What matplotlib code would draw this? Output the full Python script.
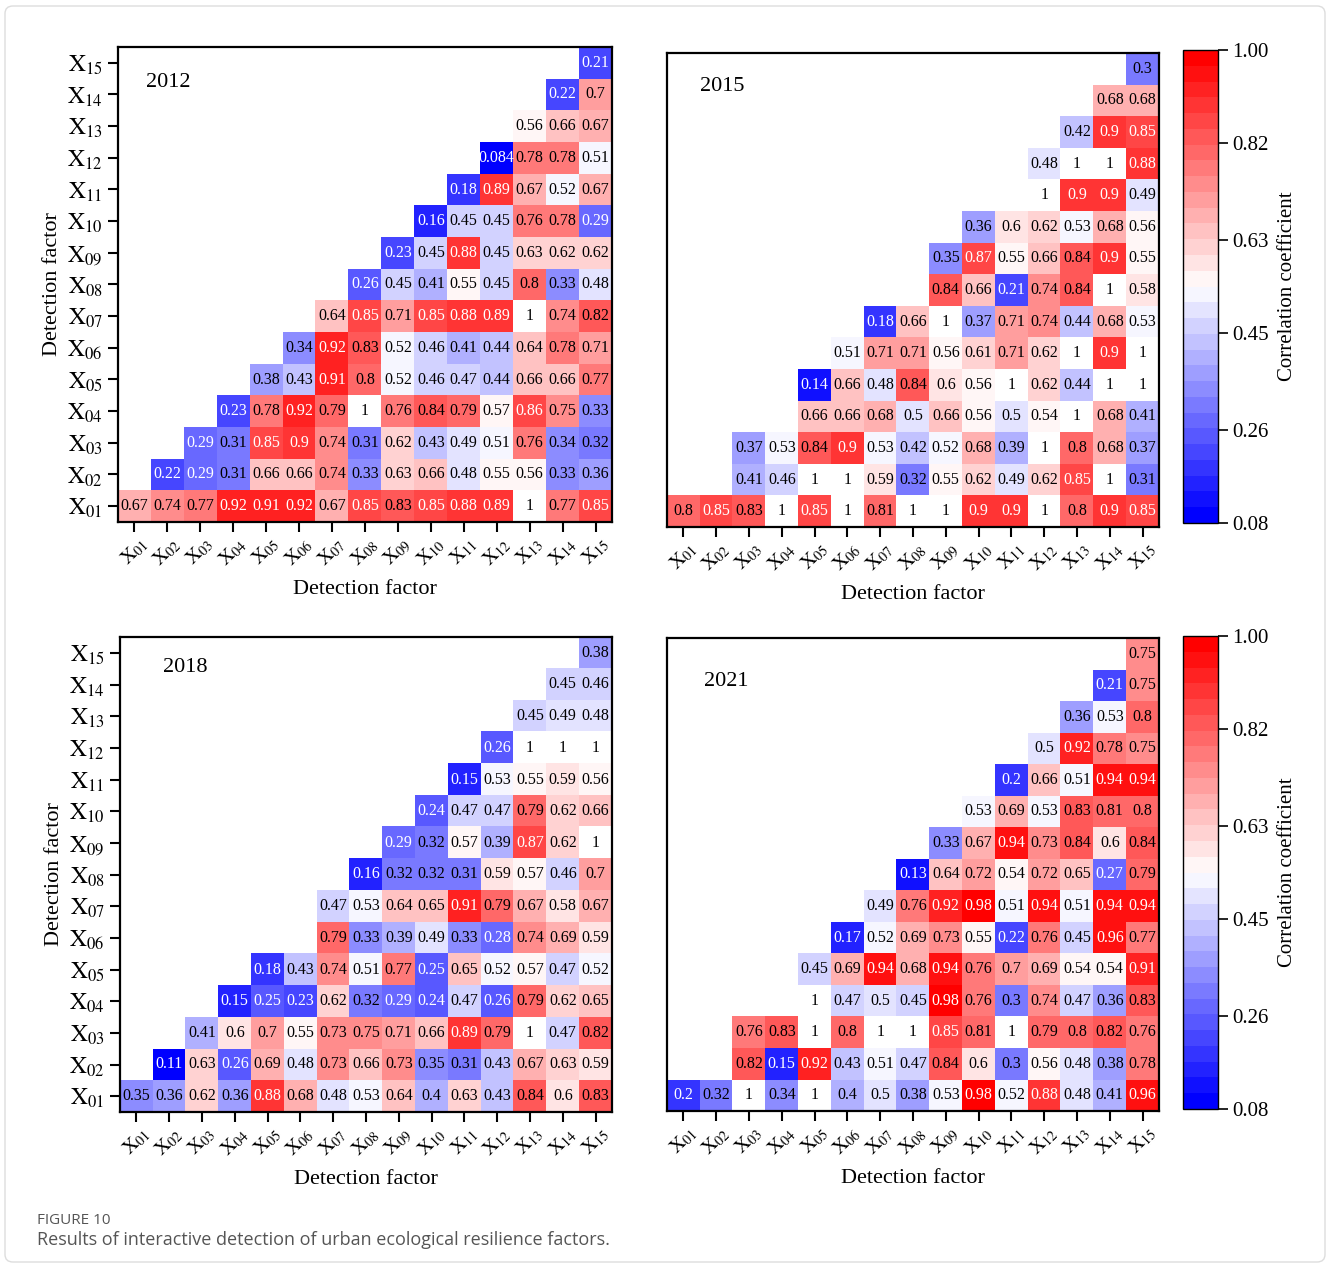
#!/usr/bin/env python3
"""Interaction detection heatmaps of urban ecological resilience factors (2012-2021)."""

import matplotlib
matplotlib.use("Agg")
import matplotlib.pyplot as plt
import numpy as np
from matplotlib.cm import ScalarMappable
from matplotlib.colors import ListedColormap, Normalize
from matplotlib.patches import FancyBboxPatch

W, H = 1326, 1270

FACTORS = ["01", "02", "03", "04", "05", "06", "07", "08",
           "09", "10", "11", "12", "13", "14", "15"]

# each row X01..X15 starts at its own diagonal column; None = blank cell
V2012 = [
    [0.67, 0.74, 0.77, 0.92, 0.91, 0.92, 0.67, 0.85, 0.83, 0.85, 0.88, 0.89, 1, 0.77, 0.85],
    [0.22, 0.29, 0.31, 0.66, 0.66, 0.74, 0.33, 0.63, 0.66, 0.48, 0.55, 0.56, 0.33, 0.36],
    [0.29, 0.31, 0.85, 0.9, 0.74, 0.31, 0.62, 0.43, 0.49, 0.51, 0.76, 0.34, 0.32],
    [0.23, 0.78, 0.92, 0.79, 1, 0.76, 0.84, 0.79, 0.57, 0.86, 0.75, 0.33],
    [0.38, 0.43, 0.91, 0.8, 0.52, 0.46, 0.47, 0.44, 0.66, 0.66, 0.77],
    [0.34, 0.92, 0.83, 0.52, 0.46, 0.41, 0.44, 0.64, 0.78, 0.71],
    [0.64, 0.85, 0.71, 0.85, 0.88, 0.89, 1, 0.74, 0.82],
    [0.26, 0.45, 0.41, 0.55, 0.45, 0.8, 0.33, 0.48],
    [0.23, 0.45, 0.88, 0.45, 0.63, 0.62, 0.62],
    [0.16, 0.45, 0.45, 0.76, 0.78, 0.29],
    [0.18, 0.89, 0.67, 0.52, 0.67],
    [0.084, 0.78, 0.78, 0.51],
    [0.56, 0.66, 0.67],
    [0.22, 0.7],
    [0.21],
]

V2015 = [
    [0.8, 0.85, 0.83, 1, 0.85, 1, 0.81, 1, 1, 0.9, 0.9, 1, 0.8, 0.9, 0.85],
    [None, 0.41, 0.46, 1, 1, 0.59, 0.32, 0.55, 0.62, 0.49, 0.62, 0.85, 1, 0.31],
    [0.37, 0.53, 0.84, 0.9, 0.53, 0.42, 0.52, 0.68, 0.39, 1, 0.8, 0.68, 0.37],
    [None, 0.66, 0.66, 0.68, 0.5, 0.66, 0.56, 0.5, 0.54, 1, 0.68, 0.41],
    [0.14, 0.66, 0.48, 0.84, 0.6, 0.56, 1, 0.62, 0.44, 1, 1],
    [0.51, 0.71, 0.71, 0.56, 0.61, 0.71, 0.62, 1, 0.9, 1],
    [0.18, 0.66, 1, 0.37, 0.71, 0.74, 0.44, 0.68, 0.53],
    [None, 0.84, 0.66, 0.21, 0.74, 0.84, 1, 0.58],
    [0.35, 0.87, 0.55, 0.66, 0.84, 0.9, 0.55],
    [0.36, 0.6, 0.62, 0.53, 0.68, 0.56],
    [None, 1, 0.9, 0.9, 0.49],
    [0.48, 1, 1, 0.88],
    [0.42, 0.9, 0.85],
    [0.68, 0.68],
    [0.3],
]

V2018 = [
    [0.35, 0.36, 0.62, 0.36, 0.88, 0.68, 0.48, 0.53, 0.64, 0.4, 0.63, 0.43, 0.84, 0.6, 0.83],
    [0.11, 0.63, 0.26, 0.69, 0.48, 0.73, 0.66, 0.73, 0.35, 0.31, 0.43, 0.67, 0.63, 0.59],
    [0.41, 0.6, 0.7, 0.55, 0.73, 0.75, 0.71, 0.66, 0.89, 0.79, 1, 0.47, 0.82],
    [0.15, 0.25, 0.23, 0.62, 0.32, 0.29, 0.24, 0.47, 0.26, 0.79, 0.62, 0.65],
    [0.18, 0.43, 0.74, 0.51, 0.77, 0.25, 0.65, 0.52, 0.57, 0.47, 0.52],
    [None, 0.79, 0.33, 0.39, 0.49, 0.33, 0.28, 0.74, 0.69, 0.59],
    [0.47, 0.53, 0.64, 0.65, 0.91, 0.79, 0.67, 0.58, 0.67],
    [0.16, 0.32, 0.32, 0.31, 0.59, 0.57, 0.46, 0.7],
    [0.29, 0.32, 0.57, 0.39, 0.87, 0.62, 1],
    [0.24, 0.47, 0.47, 0.79, 0.62, 0.66],
    [0.15, 0.53, 0.55, 0.59, 0.56],
    [0.26, 1, 1, 1],
    [0.45, 0.49, 0.48],
    [0.45, 0.46],
    [0.38],
]

V2021 = [
    [0.2, 0.32, 1, 0.34, 1, 0.4, 0.5, 0.38, 0.53, 0.98, 0.52, 0.88, 0.48, 0.41, 0.96],
    [None, 0.82, 0.15, 0.92, 0.43, 0.51, 0.47, 0.84, 0.6, 0.3, 0.56, 0.48, 0.38, 0.78],
    [0.76, 0.83, 1, 0.8, 1, 1, 0.85, 0.81, 1, 0.79, 0.8, 0.82, 0.76],
    [None, 1, 0.47, 0.5, 0.45, 0.98, 0.76, 0.3, 0.74, 0.47, 0.36, 0.83],
    [0.45, 0.69, 0.94, 0.68, 0.94, 0.76, 0.7, 0.69, 0.54, 0.54, 0.91],
    [0.17, 0.52, 0.69, 0.73, 0.55, 0.22, 0.76, 0.45, 0.96, 0.77],
    [0.49, 0.76, 0.92, 0.98, 0.51, 0.94, 0.51, 0.94, 0.94],
    [0.13, 0.64, 0.72, 0.54, 0.72, 0.65, 0.27, 0.79],
    [0.33, 0.67, 0.94, 0.73, 0.84, 0.6, 0.84],
    [0.53, 0.69, 0.53, 0.83, 0.81, 0.8],
    [0.2, 0.66, 0.51, 0.94, 0.94],
    [0.5, 0.92, 0.78, 0.75],
    [0.36, 0.53, 0.8],
    [0.21, 0.75],
    [0.75],
]

CBAR_TICKS = [0.08, 0.26, 0.45, 0.63, 0.82, 1.00]
VMIN, VMAX = 0.08, 1.00

SERIF = "Liberation Serif"


def to_matrix(rows):
    m = np.full((15, 15), np.nan)
    for i, row in enumerate(rows):
        for k, v in enumerate(row):
            if v is not None:
                m[i, i + k] = v
    return m


def px_axes(fig, x0, y0, x1, y1):
    # pixel box (top-left origin) -> figure fraction
    return fig.add_axes([x0 / W, 1 - y1 / H, (x1 - x0) / W, (y1 - y0) / H])


def draw_panel(ax, rows, year, year_pos, cmap, show_y):
    m = to_matrix(rows)
    masked = np.ma.masked_where(np.isnan(m) | (m >= 1), m)
    ax.imshow(masked, cmap=cmap, vmin=VMIN, vmax=VMAX, origin="lower",
              aspect="auto", extent=(-0.5, 14.5, -0.5, 14.5),
              interpolation="nearest")
    for i in range(15):
        for j in range(15):
            v = m[i, j]
            if np.isnan(v):
                continue
            col = "white" if (v < 0.295 or (0.845 < v < 1)) else "black"
            ax.text(j, i, f"{v:g}", ha="center", va="center",
                    fontsize=11.5, color=col, family=SERIF)

    labels = [r"$\mathrm{X}_{%s}$" % f for f in FACTORS]
    ax.set_xticks(range(15))
    ax.set_xticklabels(labels, rotation=45, ha="center", va="top", fontsize=14.5)
    ax.tick_params(axis="x", length=7, width=1.5, pad=2)
    if show_y:
        ax.set_yticks(range(15))
        ax.set_yticklabels(labels, fontsize=17)
        ax.tick_params(axis="y", length=7, width=1.5, pad=4)
        ax.set_ylabel("Detection factor", fontsize=16, family=SERIF, labelpad=4)
    else:
        ax.set_yticks([])
    ax.set_xlabel("Detection factor", fontsize=16, family=SERIF)
    ax.xaxis.label.set_va("center")
    ax.xaxis.set_label_coords(0.5, -0.142)
    for sp in ax.spines.values():
        sp.set_linewidth(1.6)
    ax.text(year_pos[0], year_pos[1], year, transform=ax.transAxes,
            ha="left", va="center", fontsize=16, family=SERIF)


def draw_cbar(fig, cax, cmap):
    cb = fig.colorbar(ScalarMappable(Normalize(VMIN, VMAX), cmap), cax=cax,
                      ticks=CBAR_TICKS)
    cb.ax.set_yticklabels([f"{t:.2f}" for t in CBAR_TICKS], fontsize=15,
                          family=SERIF)
    cb.ax.tick_params(length=7, width=1.2)
    cb.outline.set_linewidth(1.0)
    cb.set_label("Correlation coefficient", fontsize=15, family=SERIF,
                 labelpad=6)


def main():
    plt.rcParams.update({
        "font.family": SERIF,
        "mathtext.fontset": "stix",
    })
    cmap = ListedColormap(plt.get_cmap("bwr")(np.linspace(0, 1, 30)))
    cmap.set_bad("white")

    fig = plt.figure(figsize=(W / 100, H / 100), dpi=100)
    fig.patches.append(FancyBboxPatch(
        (5 / W, 8 / H), (W - 6) / W, (H - 14) / H,
        boxstyle="round,pad=0,rounding_size=0.006", transform=fig.transFigure,
        fill=False, edgecolor="#dddddd", linewidth=1.0))

    ax1 = px_axes(fig, 118, 47, 612, 522)
    ax2 = px_axes(fig, 667, 53, 1159, 527)
    ax3 = px_axes(fig, 120, 637, 612, 1112)
    ax4 = px_axes(fig, 667, 638, 1159, 1111)
    draw_panel(ax1, V2012, "2012", (0.057, 0.926), cmap, True)
    draw_panel(ax2, V2015, "2015", (0.067, 0.930), cmap, False)
    draw_panel(ax3, V2018, "2018", (0.087, 0.935), cmap, True)
    draw_panel(ax4, V2021, "2021", (0.075, 0.907), cmap, False)

    draw_cbar(fig, px_axes(fig, 1183, 50, 1218, 523), cmap)
    draw_cbar(fig, px_axes(fig, 1183, 636, 1218, 1109), cmap)

    fig.text(37 / W, 1 - 1220 / H, "FIGURE 10", fontsize=11,
             family="Open Sans", color="#555555", va="center")
    fig.text(37 / W, 1 - 1240 / H,
             "Results of interactive detection of urban ecological resilience factors.",
             fontsize=13, family="Open Sans", color="#555555", va="center")

    fig.savefig("out.png", dpi=100)
    plt.close(fig)


if __name__ == "__main__":
    main()
